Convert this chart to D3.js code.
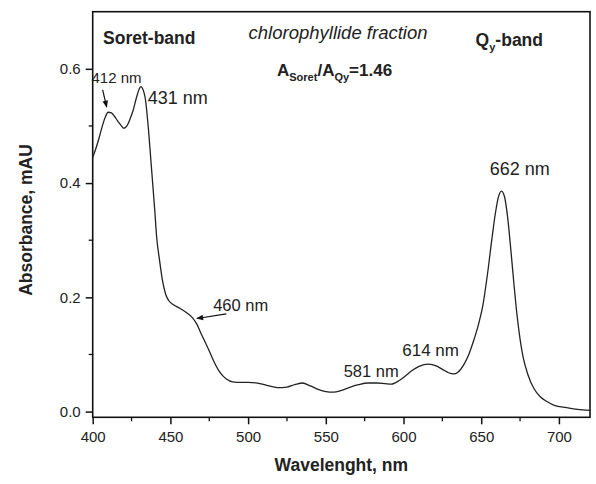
<!DOCTYPE html>
<html><head><meta charset="utf-8">
<script src="https://cdn.jsdelivr.net/npm/d3@7/dist/d3.min.js"></script>
<style>body{margin:0;background:#fff;} text{font-family:"Liberation Sans",Arial,sans-serif;fill:#222;}</style>
</head><body><svg id="c" width="596" height="484"></svg>
<script>
const wavelength = [400,402,404,406,408,410,412,414,416,418,420,422,424,426,428,430,431,432,434,436,438,440,441,443,445,447,449,452,456,460,464,467,470,473,476,479,482,486,490,495,500,506,512,519,525,530,535,540,545,550,555,560,565,571,577,583,588,592,597,601,605,610,616,621,625,629,632,635,639,642,645,648,651,654,657,659,661,663,665,667,669,671,673,675,677,680,684,688,692,697,705,712,720];
const absorbance = [0.445,0.46,0.478,0.498,0.515,0.524,0.523,0.517,0.509,0.502,0.496,0.500,0.512,0.527,0.548,0.565,0.569,0.566,0.545,0.49,0.42,0.35,0.31,0.265,0.228,0.205,0.194,0.187,0.181,0.174,0.165,0.153,0.135,0.118,0.100,0.082,0.068,0.057,0.052,0.051,0.051,0.050,0.046,0.042,0.043,0.047,0.050,0.045,0.039,0.035,0.034,0.037,0.042,0.047,0.050,0.050,0.049,0.048,0.054,0.062,0.071,0.079,0.083,0.080,0.074,0.068,0.066,0.069,0.083,0.100,0.123,0.150,0.185,0.240,0.305,0.345,0.375,0.386,0.376,0.340,0.285,0.225,0.170,0.127,0.095,0.065,0.040,0.026,0.018,0.011,0.007,0.004,0.002];
const xTicks = [400,450,500,550,600,650,700];
const xMinor = [425,475,525,575,625,675];
const yTicks = [0.0,0.2,0.4,0.6];
const yMinor = [0.1,0.3,0.5];
const peakLabels = [
  {text:"412 nm", x:415.3, y:0.584, size:15, anchor:"middle"},
  {text:"431 nm", x:435.4, y:0.549, size:18, anchor:"start"},
  {text:"460 nm", x:477.5, y:0.186, size:16.5, anchor:"start"},
  {text:"581 nm", x:561.5, y:0.070, size:16.5, anchor:"start"},
  {text:"614 nm", x:599.2, y:0.107, size:17, anchor:"start"},
  {text:"662 nm", x:674.8, y:0.426, size:18, anchor:"middle"}
];
const arrows = [
  {x1:406.4, y1:0.563, x2:409.0, y2:0.533},
  {x1:486.0, y1:0.171, x2:467.0, y2:0.163}
];

const svg = d3.select("#c");
const L=92.7, R=590, T=11.7, B=417.3;
const x = d3.scaleLinear().domain([400,720]).range([L,R]);
const y = d3.scaleLinear().domain([-0.01,0.70]).range([B,T]);

svg.append("defs").append("marker").attr("id","ah").attr("viewBox","0 0 10 10")
  .attr("refX",9).attr("refY",5).attr("markerWidth",9).attr("markerHeight",7)
  .attr("markerUnits","userSpaceOnUse").attr("orient","auto")
  .append("path").attr("d","M0,1 L10,5 L0,9 Z").attr("fill","#111");

svg.append("rect").attr("x",L).attr("y",T).attr("width",R-L).attr("height",B-T)
  .attr("fill","none").attr("stroke","#111").attr("stroke-width",1.6);

const xa = svg.append("g").attr("transform",`translate(0,${B})`)
  .call(d3.axisBottom(x).tickValues(xTicks).tickSize(7).tickPadding(7).tickFormat(d3.format("d")));
xa.select(".domain").remove();
xa.selectAll("line").attr("stroke","#111").attr("stroke-width",1.5);
xa.selectAll("text").attr("font-size",15).attr("fill","#222");
svg.append("g").selectAll("line").data(xMinor).join("line")
  .attr("x1",d=>x(d)).attr("x2",d=>x(d)).attr("y1",B).attr("y2",B+4)
  .attr("stroke","#111").attr("stroke-width",1.3);

const ya = svg.append("g").attr("transform",`translate(${L},0)`)
  .call(d3.axisLeft(y).tickValues(yTicks).tickSize(7).tickPadding(5).tickFormat(d3.format(".1f")));
ya.select(".domain").remove();
ya.selectAll("line").attr("stroke","#111").attr("stroke-width",1.5);
ya.selectAll("text").attr("font-size",15).attr("fill","#222");
svg.append("g").selectAll("line").data(yMinor).join("line")
  .attr("y1",d=>y(d)).attr("y2",d=>y(d)).attr("x1",L).attr("x2",L-4)
  .attr("stroke","#111").attr("stroke-width",1.3);

svg.append("text").attr("x",(L+R)/2).attr("y",471).attr("text-anchor","middle")
  .attr("font-size",17.5).attr("font-weight","bold").text("Wavelenght, nm");
svg.append("text").attr("transform","translate(32,220) rotate(-90)").attr("text-anchor","middle")
  .attr("font-size",17.5).attr("font-weight","bold").text("Absorbance, mAU");

const pts = wavelength.map((w,i)=>[w,absorbance[i]]);
svg.append("path").datum(pts).attr("fill","none").attr("stroke","#222").attr("stroke-width",1.3)
  .attr("d", d3.line().x(d=>x(d[0])).y(d=>y(d[1])).curve(d3.curveMonotoneX));

svg.append("g").selectAll("text").data(peakLabels).join("text")
  .attr("x",d=>x(d.x)).attr("y",d=>y(d.y)).attr("dy","0.35em")
  .attr("text-anchor",d=>d.anchor).attr("font-size",d=>d.size).text(d=>d.text);

svg.append("g").selectAll("line").data(arrows).join("line")
  .attr("x1",d=>x(d.x1)).attr("y1",d=>y(d.y1)).attr("x2",d=>x(d.x2)).attr("y2",d=>y(d.y2))
  .attr("stroke","#111").attr("stroke-width",1.2).attr("marker-end","url(#ah)");

svg.append("text").attr("x",x(406.7)).attr("y",y(0.655)).attr("dy","0.35em")
  .attr("font-size",17.5).attr("font-weight","bold").text("Soret-band");
svg.append("text").attr("x",x(500.3)).attr("y",y(0.663)).attr("dy","0.35em")
  .attr("font-size",18.5).attr("font-style","italic").text("chlorophyllide fraction");
const q = svg.append("text").attr("x",x(646.4)).attr("y",y(0.65)).attr("dy","0.35em")
  .attr("font-size",17.5).attr("font-weight","bold");
q.append("tspan").text("Q");
q.append("tspan").attr("font-size",11).attr("dy","0.45em").text("y");
q.append("tspan").attr("dy","-0.3em").text("-band");

const r = svg.append("text").attr("x",x(518.6)).attr("y",y(0.597)).attr("dy","0.35em")
  .attr("font-size",17).attr("font-weight","bold");
r.append("tspan").text("A");
r.append("tspan").attr("font-size",11).attr("dy","5").text("Soret");
r.append("tspan").attr("dy","-5").text("/A");
r.append("tspan").attr("font-size",11).attr("dy","5").text("Qy");
r.append("tspan").attr("dy","-5").text("=1.46");
</script></body></html>
